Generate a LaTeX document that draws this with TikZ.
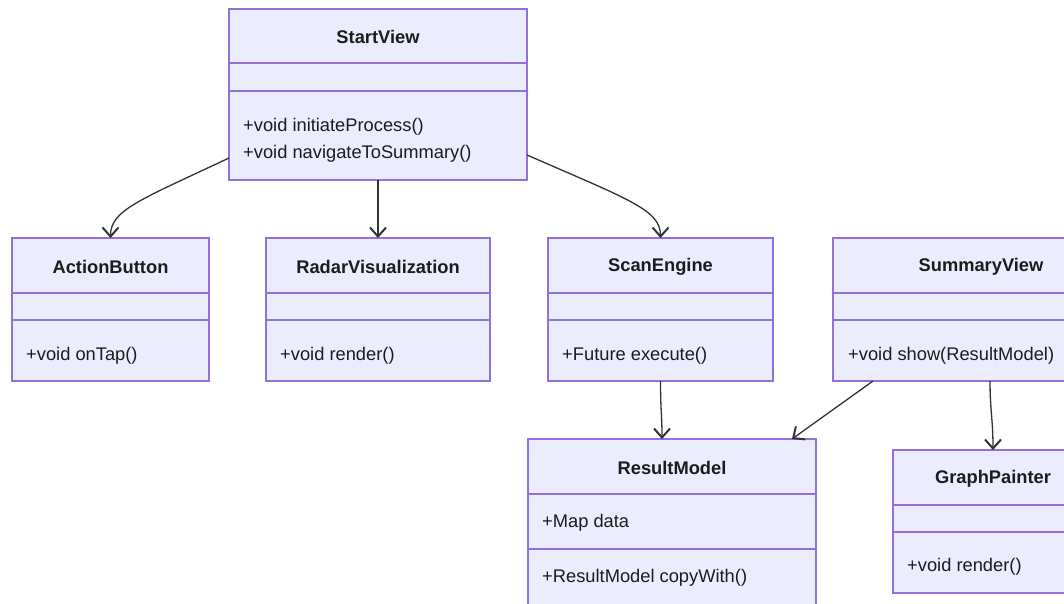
\documentclass[tikz,border=0pt]{standalone}
\usepackage{fontspec}
\setmainfont{Liberation Sans}
\usetikzlibrary{arrows.meta,calc}
\definecolor{boxfill}{HTML}{ECECFF}
\definecolor{boxline}{HTML}{9370DB}
\definecolor{edge}{HTML}{333333}
\definecolor{txt}{HTML}{1C1C1C}
\tikzset{
  x=1pt, y=-1pt,
  classbox/.style={draw=boxline, fill=boxfill, line width=1.3pt, anchor=north west, inner sep=0pt, outer sep=0pt},
  divider/.style={draw=boxline, line width=1.3pt},
  title/.style={font=\fontsize{18.3}{20}\selectfont\bfseries, text=txt, inner sep=0pt},
  member/.style={font=\fontsize{18.3}{20}\selectfont, text=txt, anchor=west, inner sep=0pt},
  rel/.style={draw=edge, line width=1.3pt, -{Straight Barb[length=9pt,width=16pt,line width=2pt]}},
}
\begin{document}
\begin{tikzpicture}
\useasboundingbox (0,0) rectangle (1064,604);
\fill[white] (0,0) rectangle (1064,604);
\begin{scope}
\clip (0,0) rectangle (1064,604);
% StartView
\node[classbox, minimum width=298pt, minimum height=171pt] (sv) at (229,9) {};
\draw[divider] (229,63) -- (527,63) (229,91) -- (527,91);
\node[title] (svt) at (378,37) {StartView};
\node[member] (svm1) at (243,127) {+void initiateProcess()};
\node[member] (svm2) at (243,154) {+void navigateToSummary()};
% ActionButton
\node[classbox, minimum width=197pt, minimum height=143pt] (ab) at (12,238) {};
\draw[divider] (12,293) -- (209,293) (12,320) -- (209,320);
\node[title] (abt) at (110.5,267) {ActionButton};
\node[member] (abm) at (26,356) {+void onTap()};
% RadarVisualization
\node[classbox, minimum width=224pt, minimum height=143pt] (rv) at (266,238) {};
\draw[divider] (266,293) -- (490,293) (266,320) -- (490,320);
\node[title] (rvt) at (378,267) {RadarVisualization};
\node[member] (rvm) at (280,356) {+void render()};
% ScanEngine
\node[classbox, minimum width=225pt, minimum height=143pt] (se) at (548,238) {};
\draw[divider] (548,293) -- (773,293) (548,320) -- (773,320);
\node[title] (set) at (660.5,267) {ScanEngine};
\node[member] (sem) at (562,356) {+Future execute()};
% SummaryView
\node[classbox, minimum width=296pt, minimum height=143pt] (sm) at (833,238) {};
\draw[divider] (833,293) -- (1129,293) (833,320) -- (1129,320);
\node[title] (smt) at (981,267) {SummaryView};
\node[member] (smm) at (848,356) {+void show(ResultModel)};
% ResultModel
\node[classbox, minimum width=288pt, minimum height=170pt] (rm) at (528,439) {};
\draw[divider] (528,494) -- (816,494) (528,549) -- (816,549);
\node[title] (rmt) at (672,468) {ResultModel};
\node[member] (rmm1) at (542,523) {+Map data};
\node[member] (rmm2) at (542,578) {+ResultModel copyWith()};
% GraphPainter
\node[classbox, minimum width=200pt, minimum height=143pt] (gp) at (893,450) {};
\draw[divider] (893,505) -- (1093,505) (893,532) -- (1093,532);
\node[title] (gpt) at (993,479) {GraphPainter};
\node[member] (gpm) at (907,567) {+void render()};
\end{scope}
% relations
\draw[rel] ([yshift=22pt]sv.south west) .. controls (140,200) and (110.5,210) .. (ab.north);
\draw[rel] (sv.south) -- (rv.north);
\draw[rel] ([yshift=25pt]sv.south east) .. controls (630,200) and (660.5,210) .. (se.north);
\draw[rel] (se.south) .. controls (660.5,410) and (662,415) .. ([xshift=-10pt]rm.north);
\draw[rel] ([xshift=40pt]sm.south west) -- ([xshift=-24pt]rm.north east);
\draw[rel] ([xshift=9pt]sm.south) .. controls (990,410) and (993,420) .. (gp.north);
\end{tikzpicture}
\end{document}
